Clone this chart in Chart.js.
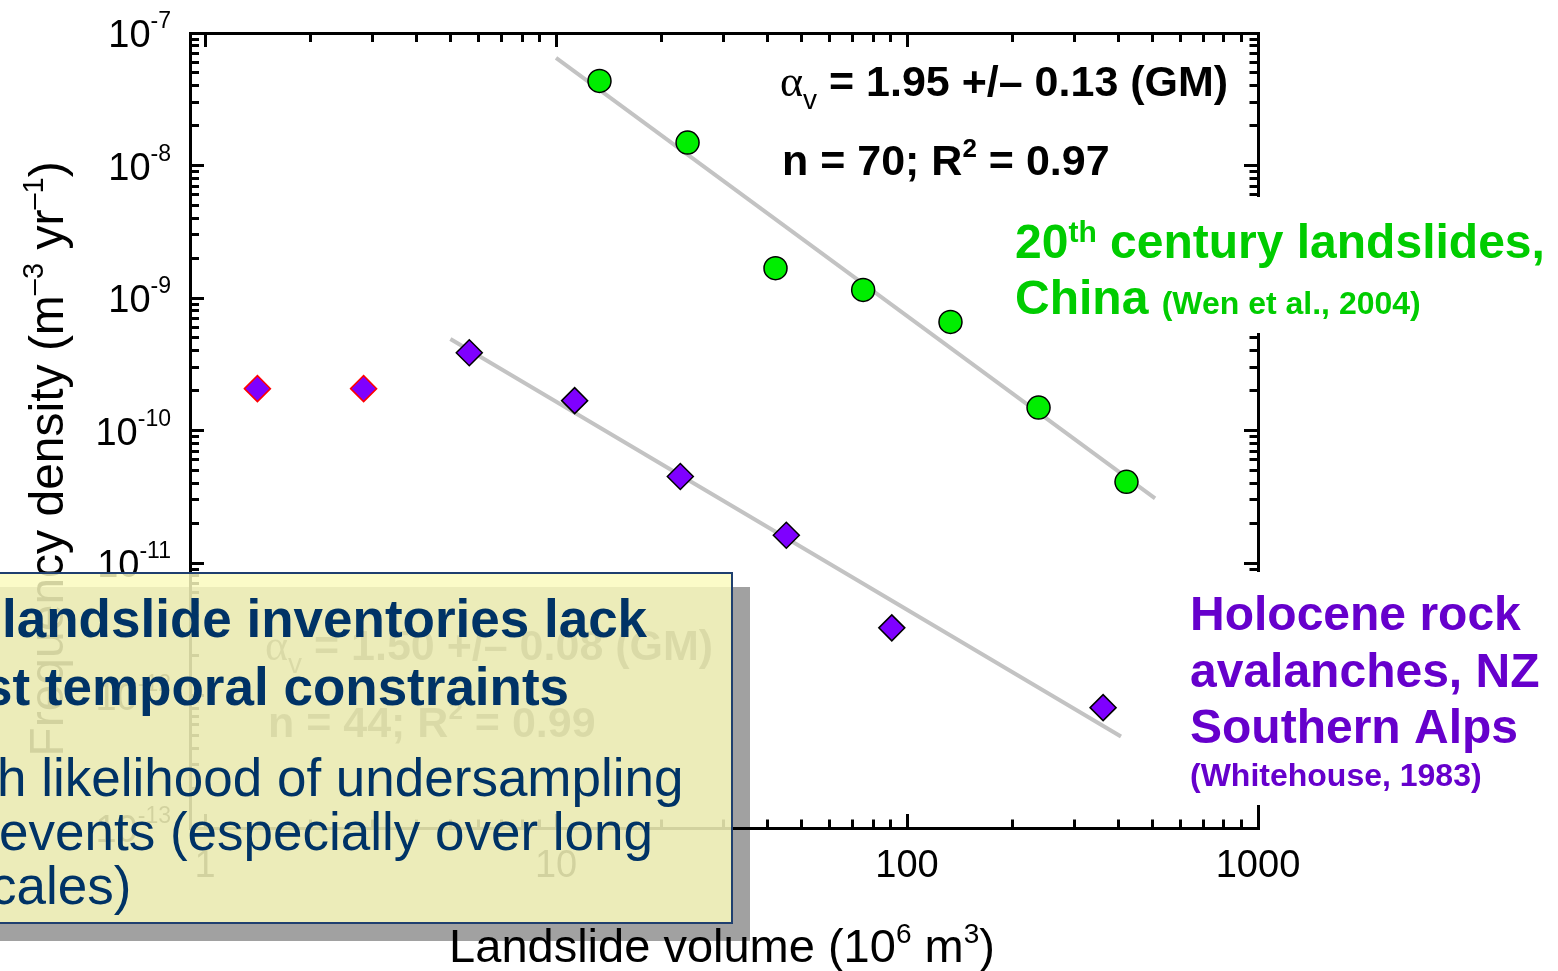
<!DOCTYPE html>
<html>
<head>
<meta charset="utf-8">
<title>Landslide frequency density</title>
<script src="https://cdn.jsdelivr.net/npm/chart.js@4.4.1/dist/chart.umd.min.js"></script>
<style>
  html, body { margin: 0; padding: 0; background: #fff; }
  #wrap { position: relative; width: 1558px; height: 971px; overflow: hidden; }
  #chart { position: absolute; left: 0; top: 0; }
  .shadow { position: absolute; left: -10px; top: 587px; width: 760px; height: 354px; background: rgba(0, 0, 0, 0.37); }
  .box { position: absolute; left: -10px; top: 572px; width: 739px; height: 348px;
         background: rgba(250, 250, 190, 0.84); border: 2px solid #1f3f6f; }
  .txt { position: absolute; white-space: nowrap; color: #003366;
         font-family: "Liberation Sans", Arial, sans-serif; font-size: 53px; line-height: 53px; }
  .b { font-weight: bold; }
</style>
</head>
<body>
<div id="wrap">
  <canvas id="chart" width="1558" height="971"></canvas>
  <div class="shadow"></div>
  <div class="box"></div>
  <div class="txt b" style="left:2px;top:592px">landslide inventories lack</div>
  <div class="txt b" style="left:-17px;top:660px">st temporal constraints</div>
  <div class="txt" style="left:-3px;top:751px">h likelihood of undersampling</div>
  <div class="txt" style="left:-1px;top:805px">events (especially over long</div>
  <div class="txt" style="left:-10px;top:859px">cales)</div>
</div>
<script>
// values: volume in 10^6 m3, frequency density in m^-3 yr^-1
const chinaVolume = [13.3, 23.7, 42.2, 75.0, 133, 237, 422];
const chinaDensity = [4.35e-8, 1.49e-8, 1.68e-9, 1.15e-9, 6.6e-10, 1.49e-10, 4.1e-11];

const nzVolume = [5.66, 11.3, 22.6, 45.3, 90.5, 362];
const nzDensity = [3.86e-10, 1.68e-10, 4.5e-11, 1.62e-11, 3.24e-12, 8.1e-13];

// the two smallest NZ bins (red outline, left out of the fit)
const nzRolloverVolume = [1.41, 2.83];
const nzRolloverDensity = [2.07e-10, 2.07e-10];

// end points of the fitted power laws (grey lines)
const chinaFitVolume = [10, 509];
const chinaFitDensity = [6.49e-8, 3.08e-11];
const nzFitVolume = [5, 407];
const nzFitDensity = [4.9e-10, 4.9e-13];

// axis decades and log mantissas
const xDecades = [1, 10, 100, 1000];
const yDecades = [1e-13, 1e-12, 1e-11, 1e-10, 1e-9, 1e-8, 1e-7];
const mantissas = [1, 2, 3, 4, 5, 6, 7, 8, 9];
const xMin = 0.906, xMax = 1000;
const yMin = 1e-13, yMax = 1e-7;

const FONT = "'Liberation Sans', Arial, sans-serif";

const pts = (xs, ys) => xs.map((x, i) => ({ x: x, y: ys[i] }));

function logTicks(decades) {
  const out = [];
  decades.forEach((d, i) => {
    mantissas.forEach(m => {
      if (m > 1 && i === decades.length - 1) return;
      out.push({ value: m * d, major: m === 1 });
    });
  });
  return out;
}

// ticks point inward; minor ticks are shortened with a dash pattern
function gridFor(fromTip) {
  return {
    display: true,
    drawOnChartArea: false,
    drawTicks: true,
    tickLength: -14,
    tickWidth: 3,
    tickColor: "#000",
    tickBorderDash: c => (c.tick && c.tick.major) ? [] : (fromTip ? [0, 5, 20, 100] : [10.5, 100])
  };
}
const border = { display: true, color: "#000", width: 3 };

function setFont(ctx, size, bold, family) {
  ctx.font = (bold ? "bold " : "") + size + "px " + (family || FONT);
}
function drawRich(ctx, x, y, parts, align) {
  let w = 0;
  parts.forEach(p => { setFont(ctx, p.s, p.b, p.f); w += ctx.measureText(p.t).width; });
  let cx = align === "right" ? x - w : align === "center" ? x - w / 2 : x;
  parts.forEach(p => {
    setFont(ctx, p.s, p.b, p.f);
    ctx.fillText(p.t, cx, y - (p.r || 0));
    cx += ctx.measureText(p.t).width;
  });
}

const textLayer = {
  id: "textLayer",
  afterDraw(chart) {
    const { ctx, chartArea, scales } = chart;
    const ys = scales.y;
    ctx.save();
    ctx.textBaseline = "alphabetic";
    ctx.fillStyle = "#000";

    // y tick labels 10^n
    ys.ticks.filter(t => t.major).forEach(t => {
      const py = ys.getPixelForValue(t.value);
      const e = Math.round(Math.log10(t.value));
      drawRich(ctx, 171, py + 14, [{ t: "10", s: 38 }, { t: String(e), s: 23, r: 19 }], "right");
    });

    // axis titles
    const cx = (chartArea.left + chartArea.right) / 2;
    drawRich(ctx, cx - 2, 962, [
      { t: "Landslide volume (10", s: 47 }, { t: "6", s: 28, r: 19 },
      { t: " m", s: 47 }, { t: "3", s: 28, r: 19 }, { t: ")", s: 47 }
    ], "center");
    ctx.save();
    ctx.translate(63, 459);
    ctx.rotate(-Math.PI / 2);
    drawRich(ctx, 0, 0, [
      { t: "Frequency density (m", s: 48 }, { t: "\u20133", s: 29, r: 20 },
      { t: " yr", s: 48 }, { t: "\u20131", s: 29, r: 20 }, { t: ")", s: 48 }
    ], "center");
    ctx.restore();

    // fit statistics
    drawRich(ctx, 780, 96, [
      { t: "\u03b1", s: 44, f: "'Liberation Serif', serif" }, { t: "v", s: 28, r: -13 },
      { t: " = 1.95 +/\u2013 0.13 (GM)", s: 43, b: true }
    ]);
    drawRich(ctx, 782, 175, [
      { t: "n = 70; R", s: 43, b: true }, { t: "2", s: 26, b: true, r: 18 }, { t: " = 0.97", s: 43, b: true }
    ]);
    // NZ fit statistics, behind the text box
    ctx.fillStyle = "#555";
    drawRich(ctx, 265, 660, [
      { t: "\u03b1", s: 44, f: "'Liberation Serif', serif" }, { t: "v", s: 28, r: -13 },
      { t: " = 1.50 +/\u2013 0.08 (GM)", s: 43, b: true }
    ]);
    drawRich(ctx, 268, 737, [
      { t: "n = 44; R", s: 43, b: true }, { t: "2", s: 26, b: true, r: 18 }, { t: " = 0.99", s: 43, b: true }
    ]);

    // series labels on white
    ctx.fillStyle = "#fff";
    ctx.fillRect(1005, 197, 553, 136);
    ctx.fillRect(1180, 572, 378, 233);
    ctx.fillStyle = "#00cc00";
    drawRich(ctx, 1015, 258, [
      { t: "20", s: 48, b: true }, { t: "th", s: 30, b: true, r: 16 }, { t: " century landslides,", s: 48, b: true }
    ]);
    drawRich(ctx, 1015, 314, [{ t: "China ", s: 48, b: true }, { t: "(Wen et al., 2004)", s: 32, b: true }]);
    ctx.fillStyle = "#6600cc";
    drawRich(ctx, 1190, 630, [{ t: "Holocene rock", s: 48, b: true }]);
    drawRich(ctx, 1190, 687, [{ t: "avalanches, NZ", s: 48, b: true }]);
    drawRich(ctx, 1190, 743, [{ t: "Southern Alps", s: 48, b: true }]);
    drawRich(ctx, 1190, 786, [{ t: "(Whitehouse, 1983)", s: 32, b: true }]);
    ctx.restore();
  }
};

const xTicks = logTicks(xDecades).filter(t => t.value >= xMin);
const yTicks = logTicks(yDecades);

new Chart(document.getElementById("chart"), {
  type: "scatter",
  data: {
    datasets: [
      { label: "China fit", data: pts(chinaFitVolume, chinaFitDensity), showLine: true, pointRadius: 0,
        borderColor: "#c3c3c3", borderWidth: 4, order: 2 },
      { label: "NZ fit", data: pts(nzFitVolume, nzFitDensity), showLine: true, pointRadius: 0,
        borderColor: "#c3c3c3", borderWidth: 4, order: 2 },
      { label: "20th century landslides, China", data: pts(chinaVolume, chinaDensity), pointStyle: "circle",
        pointRadius: 11.5, backgroundColor: "#00ee00", borderColor: "#000", borderWidth: 1.5, order: 1 },
      { label: "Holocene rock avalanches, NZ", data: pts(nzVolume, nzDensity), pointStyle: "rectRot",
        pointRadius: 13, backgroundColor: "#7f00ff", borderColor: "#000", borderWidth: 1.5, order: 1 },
      { label: "NZ rollover", data: pts(nzRolloverVolume, nzRolloverDensity), pointStyle: "rectRot",
        pointRadius: 13, backgroundColor: "#7f00ff", borderColor: "#ff0000", borderWidth: 1.5, order: 1 }
    ]
  },
  options: {
    responsive: false,
    animation: false,
    devicePixelRatio: 1,
    layout: { padding: { left: 0, right: 300, top: 33, bottom: 0 } },
    plugins: { legend: { display: false }, tooltip: { enabled: false } },
    scales: {
      x: {
        type: "logarithmic", position: "bottom", min: xMin, max: xMax,
        afterBuildTicks: s => { s.ticks = xTicks.map(t => ({ ...t })); },
        afterFit: s => { s.height = 143; },
        grid: gridFor(false), border: border,
        ticks: { autoSkip: false, maxRotation: 0, color: "#000", padding: 30,
                 font: { family: FONT, size: 38 },
                 callback: (v, i, ticks) => ticks[i].major ? String(v) : "" }
      },
      x2: {
        type: "logarithmic", position: "top", min: xMin, max: xMax,
        afterBuildTicks: s => { s.ticks = xTicks.map(t => ({ ...t })); },
        afterFit: s => { s.height = 0; },
        grid: gridFor(true), border: border,
        ticks: { display: false, autoSkip: false }
      },
      y: {
        type: "logarithmic", position: "left", min: yMin, max: yMax,
        afterBuildTicks: s => { s.ticks = yTicks.map(t => ({ ...t })); },
        afterFit: s => { s.width = 190; },
        grid: gridFor(true), border: border,
        ticks: { autoSkip: false, callback: () => "" }
      },
      y2: {
        type: "logarithmic", position: "right", min: yMin, max: yMax,
        afterBuildTicks: s => { s.ticks = yTicks.map(t => ({ ...t })); },
        afterFit: s => { s.width = 0; },
        grid: gridFor(false), border: border,
        ticks: { display: false, autoSkip: false }
      }
    }
  },
  plugins: [textLayer]
});
</script>
</body>
</html>
